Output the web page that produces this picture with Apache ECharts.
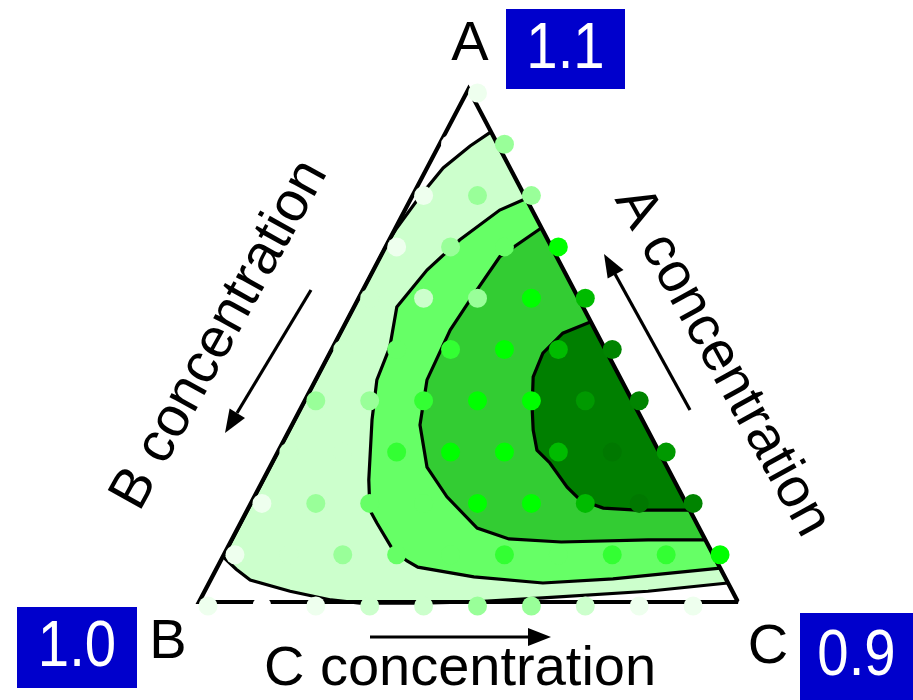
<!DOCTYPE html>
<html>
<head>
<meta charset="utf-8">
<script src="https://cdn.jsdelivr.net/npm/echarts@6/dist/echarts.min.js"></script>
<style>
  html, body { margin: 0; padding: 0; background: #fff; }
  #chart { width: 913px; height: 700px; }
</style>
</head>
<body>
<div id="chart"></div>
<script>
// response level of each mixture, one row per A step (bottom row first), B side to C side
const dotRows = [
  [1, 0, 1, 2, 2, 3, 3, 2, 1, 1, 0],
  [1, 2, 3, 4, 4, 5, 4, 5, 5, 6],
  [1, 3, 4, 4, 6, 6, 7, 10, 9],
  [2, 2, 5, 6, 6, 7, 10, 8],
  [3, 3, 5, 6, 6, 8, 9],
  [2, 4, 5, 6, 7, 9],
  [2, 2, 3, 6, 7],
  [1, 3, 4, 6],
  [1, 3, 3],
  [0, 3],
  [1]
];
const dotPalette = ['#ffffff', '#eeffee', '#ccffcc', '#99ff99', '#66ff66', '#33ff33',
  '#00ff00', '#00bb00', '#009900', '#008400', '#007800'];

// contour bands, points in plot units (x along B->C, y up to A)
const band1Path = [[0.541, 0.916], [0.503, 0.889], [0.453, 0.846], [0.410, 0.791], [0.367, 0.729],
  [0.351, 0.702], [0.045, 0.088], [0.069, 0.064], [0.095, 0.043], [0.169, 0.021], [0.245, 0.004],
  [0.299, -0.002], [0.410, -0.002], [0.503, 0.0], [0.638, 0.008], [0.833, 0.021], [0.981, 0.037]];
const band2Path = [[0.606, 0.786], [0.558, 0.764], [0.484, 0.706], [0.423, 0.647], [0.367, 0.575],
  [0.354, 0.497], [0.330, 0.433], [0.321, 0.355], [0.315, 0.238], [0.317, 0.179], [0.330, 0.154],
  [0.360, 0.101], [0.386, 0.080], [0.406, 0.068], [0.510, 0.049], [0.638, 0.037], [0.768, 0.045],
  [0.967, 0.066]];
const band3Path = [[0.635, 0.729], [0.558, 0.673], [0.503, 0.589], [0.466, 0.530], [0.423, 0.433],
  [0.410, 0.345], [0.423, 0.263], [0.460, 0.205], [0.516, 0.144], [0.575, 0.123], [0.672, 0.117],
  [0.833, 0.121], [0.939, 0.121]];
const band4Path = [[0.726, 0.546], [0.675, 0.524], [0.638, 0.485], [0.620, 0.439], [0.618, 0.380],
  [0.620, 0.335], [0.627, 0.296], [0.651, 0.271], [0.683, 0.224], [0.707, 0.199], [0.750, 0.183],
  [0.813, 0.179], [0.910, 0.179]];
const bandPaths = [band1Path, band2Path, band3Path, band4Path];
const bandFill = ['#ccffcc', '#66ff66', '#33cc33', '#007f00'];

const corners = [[0, 0], [1, 0], [0.5, 1]];
const cornerNames = ['B', 'C', 'A'];
const cornerValues = ['1.0', '0.9', '1.1'];

const dots = [];
dotRows.forEach((row, k) => {
  row.forEach((lvl, j) => {
    dots.push([(j + k / 2) / 10, k / 10, lvl]);
  });
});

const chart = echarts.init(document.getElementById('chart'));
const font = (s) => s + 'px "Liberation Sans", Arial, sans-serif';
const label = (txt, x, y, size, extra) => Object.assign({
  type: 'text', x: x, y: y,
  style: { text: txt, font: font(size), fill: '#000', align: 'center', verticalAlign: 'middle' }
}, extra || {});
const valueBox = (txt, x, y, w, h) => [
  { type: 'rect', shape: { x: x, y: y, width: w, height: h }, style: { fill: '#0000cc' } },
  { type: 'text', x: x + w / 2, y: y + h / 2 + 1, scaleX: 0.88,
    style: { text: txt, font: font(64), fill: '#fff', align: 'center', verticalAlign: 'middle' } }
];

chart.setOption({
  animation: false,
  grid: { left: 199, top: 89, width: 539, height: 513 },
  xAxis: { type: 'value', min: 0, max: 1, show: false },
  yAxis: { type: 'value', min: 0, max: 1, show: false },
  visualMap: {
    type: 'piecewise',
    show: false,
    dimension: 2,
    seriesIndex: 2,
    pieces: dotPalette.map((c, i) => ({ value: i, color: c }))
  },
  series: [
    {
      type: 'custom',
      silent: true,
      z: 1,
      data: bandPaths.map((p, i) => [i]),
      renderItem: function (params, api) {
        const i = params.dataIndex;
        const pts = bandPaths[i].map(p => api.coord(p));
        return {
          type: 'group',
          children: [
            { type: 'polygon', shape: { points: pts }, style: { fill: bandFill[i], stroke: null } },
            { type: 'polyline', shape: { points: pts },
              style: { fill: null, stroke: '#000', lineWidth: 3.2 } }
          ]
        };
      }
    },
    {
      type: 'custom',
      silent: true,
      z: 2,
      data: [[0]],
      renderItem: function (params, api) {
        return {
          type: 'polygon',
          shape: { points: corners.map(p => api.coord(p)) },
          style: { fill: null, stroke: '#000', lineWidth: 4.2, lineJoin: 'miter' }
        };
      }
    },
    {
      type: 'scatter',
      z: 3,
      silent: true,
      symbolSize: 19,
      symbolOffset: [9, 4],
      itemStyle: { opacity: 1 },
      data: dots
    }
  ],
  graphic: [
    label(cornerNames[2], 470, 45, 56),
    label(cornerNames[0], 168, 643, 56),
    label(cornerNames[1], 768, 648, 56),
    ...valueBox(cornerValues[2], 506, 9, 119, 80),
    ...valueBox(cornerValues[0], 17, 607, 120, 81),
    ...valueBox(cornerValues[1], 800, 613, 113, 87),

    label('C concentration', 460, 670, 56),
    { type: 'polyline', shape: { points: [[370, 637], [530, 637]] }, style: { stroke: '#000', lineWidth: 3.2 } },
    { type: 'polygon', shape: { points: [[551, 637], [528, 628], [528, 646]] }, style: { fill: '#000' } },

    label('B concentration', 220, 335, 56, { rotation: 1.065 }),
    { type: 'polyline', shape: { points: [[311, 290], [237, 413]] }, style: { stroke: '#000', lineWidth: 3.2 } },
    { type: 'polygon', shape: { points: [[225, 433], [245, 418], [229.6, 408.5]] }, style: { fill: '#000' } },

    label('A concentration', 722, 362, 56, { rotation: -1.065 }),
    { type: 'polyline', shape: { points: [[690, 410], [615, 274]] }, style: { stroke: '#000', lineWidth: 3.2 } },
    { type: 'polygon', shape: { points: [[604, 254], [623.5, 270], [607.7, 278.6]] }, style: { fill: '#000' } }
  ]
});
</script>
</body>
</html>
